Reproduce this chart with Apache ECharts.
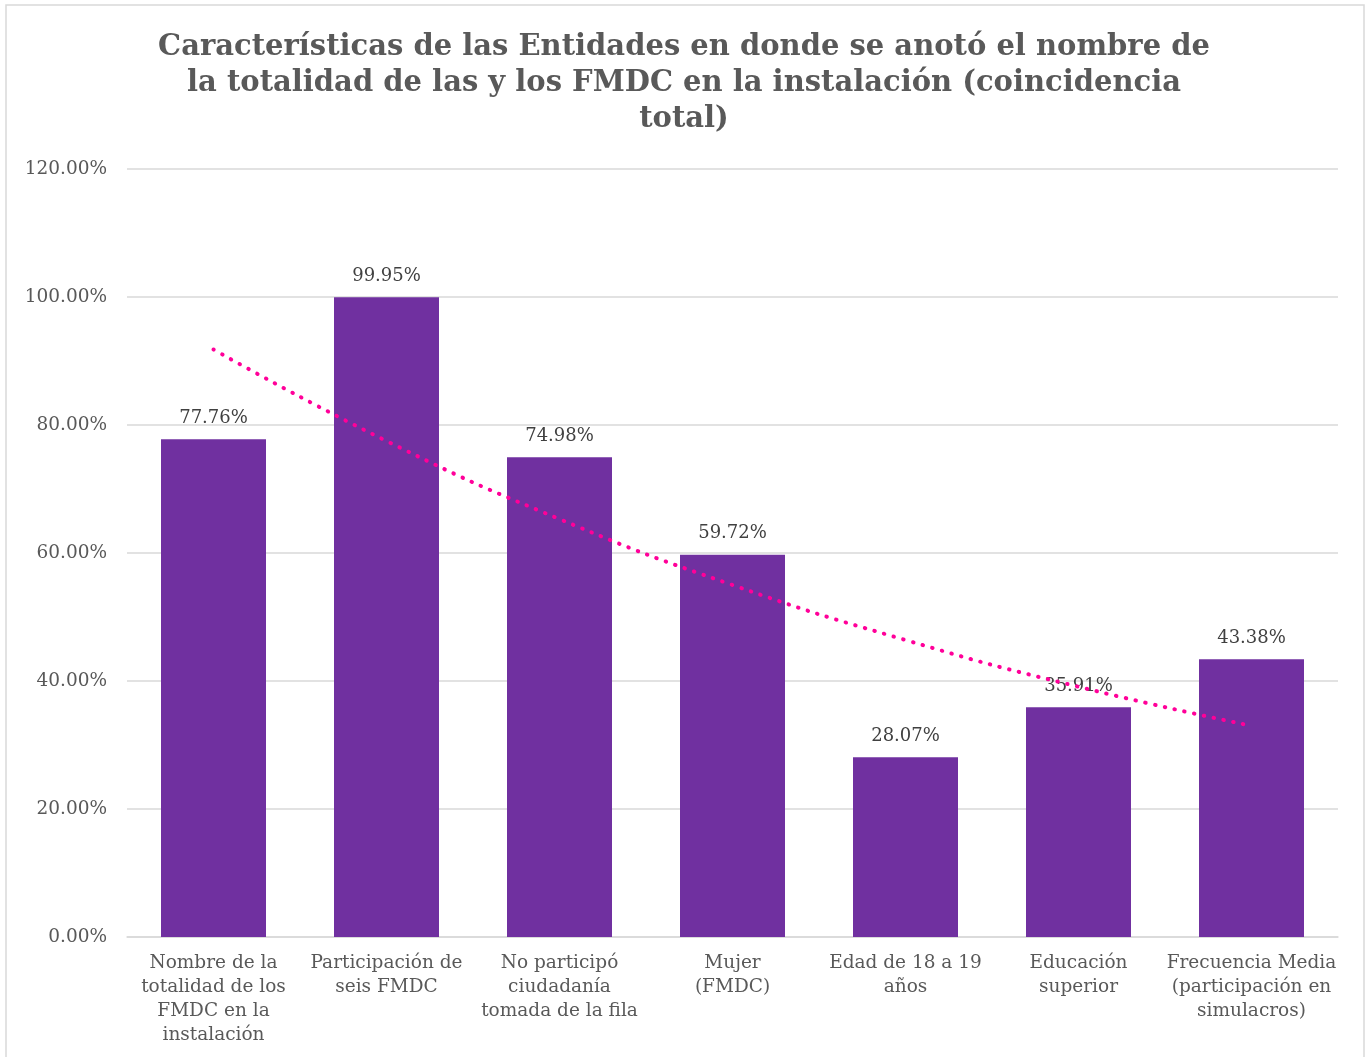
<!DOCTYPE html>
<html>
<head>
<meta charset="utf-8">
<script src="https://cdn.jsdelivr.net/npm/echarts@6/dist/echarts.min.js"></script>
<style>
html,body{margin:0;padding:0;background:#fff;}
#c{width:1368px;height:1057px;}
</style>
</head>
<body>
<div id="c"></div>
<script>
var titleText = 'Características de las Entidades en donde se anotó el nombre de\nla totalidad de las y los FMDC en la instalación (coincidencia\ntotal)';
var categories = [
  'Nombre de la\ntotalidad de los\nFMDC en la\ninstalación',
  'Participación de\nseis FMDC',
  'No participó\nciudadanía\ntomada de la fila',
  'Mujer\n(FMDC)',
  'Edad de 18 a 19\naños',
  'Educación\nsuperior',
  'Frecuencia Media\n(participación en\nsimulacros)'
];
var values = [77.76, 99.95, 74.98, 59.72, 28.07, 35.91, 43.38];
var trendValues = [91.8, 77.5, 65.3, 55.0, 46.4, 39.1, 33.0];
var yTicks = [0, 20, 40, 60, 80, 100, 120];

var FONT = 'DejaVu Serif';
var chart = echarts.init(document.getElementById('c'), null, {renderer: 'canvas'});
chart.setOption({
  backgroundColor: '#ffffff',
  animation: false,
  title: {
    text: titleText,
    left: 'center',
    top: 24,
    textStyle: {fontFamily: FONT, fontWeight: 'bold', fontSize: 29, color: '#595959', lineHeight: 36}
  },
  graphic: [{
    type: 'rect',
    shape: {x: 6, y: 5, width: 1358, height: 1060},
    style: {fill: 'none', stroke: '#D9D9D9', lineWidth: 1.5},
    silent: true
  }],
  grid: {left: 127, right: 30, top: 169, bottom: 120, containLabel: false},
  xAxis: {
    type: 'category',
    data: categories,
    axisTick: {show: false},
    axisLine: {lineStyle: {color: '#D9D9D9', width: 1.5}},
    axisLabel: {interval: 0, fontFamily: FONT, fontSize: 18.5, color: '#595959', lineHeight: 24, margin: 14}
  },
  yAxis: {
    type: 'value',
    min: yTicks[0],
    max: yTicks[yTicks.length - 1],
    interval: 20,
    axisLine: {show: false},
    axisTick: {show: false},
    splitLine: {lineStyle: {color: '#D9D9D9', width: 1.5}},
    axisLabel: {fontFamily: FONT, fontSize: 18.5, color: '#595959', margin: 20,
      formatter: function (v) { return v.toFixed(2) + '%'; }}
  },
  series: [{
    type: 'bar',
    data: values,
    barWidth: 105,
    itemStyle: {color: '#7030A0'},
    label: {show: true, position: 'top', distance: 12, fontFamily: FONT, fontSize: 18, color: '#404040',
      formatter: function (p) { return p.value.toFixed(2) + '%'; }},
    z: 2
  }, {
    type: 'line',
    data: trendValues,
    smooth: true,
    symbol: 'none',
    lineStyle: {color: '#FF0099', width: 4, type: [0.5, 9.5], cap: 'round'},
    z: 3
  }]
});
</script>
</body>
</html>
